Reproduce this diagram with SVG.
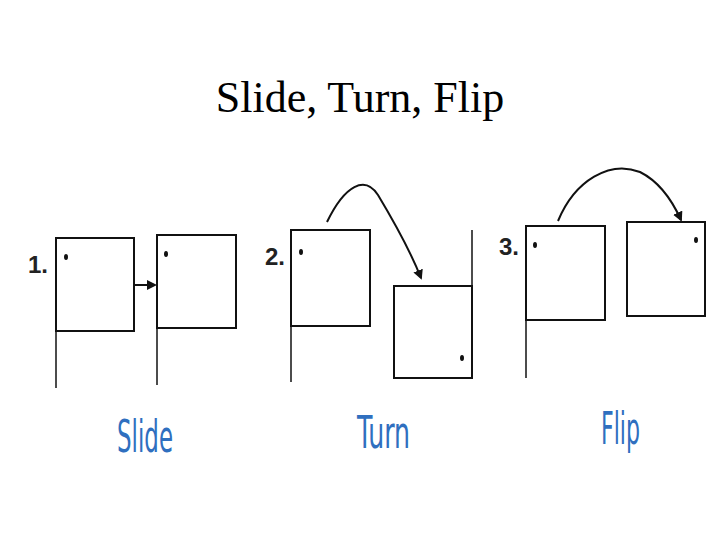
<svg xmlns="http://www.w3.org/2000/svg" width="720" height="540" viewBox="0 0 720 540">
<style>
.b{fill:none;stroke:#111;stroke-width:2}
.l{stroke:#111;stroke-width:1.5}
.d{fill:#111}
.n{font-family:"Liberation Sans",sans-serif;font-weight:bold;font-size:24px;fill:#222}
.lab{font-family:"DejaVu Sans Condensed","Liberation Sans Narrow",sans-serif;font-size:44px;fill:#2f6fbf}
.a{fill:none;stroke:#111;stroke-width:2}
</style>
<defs><marker id="ah" markerWidth="10" markerHeight="10" refX="8" refY="5" orient="auto" markerUnits="userSpaceOnUse"><path d="M0,0 L10,5 L0,10 Z" fill="#111"/></marker></defs>
<rect width="720" height="540" fill="#fff"/>
<text x="360" y="112" text-anchor="middle" font-family="Liberation Serif,serif" font-size="44">Slide, Turn, Flip</text>
<g id="panel1">
<text class="n" x="28" y="273">1.</text>
<rect class="b" x="56" y="238" width="78" height="93"/><line class="l" x1="56" y1="331" x2="56" y2="388"/>
<ellipse class="d" cx="66" cy="257" rx="2" ry="3"/>
<rect class="b" x="157" y="235" width="79" height="93"/><line class="l" x1="157" y1="328" x2="157" y2="385"/>
<ellipse class="d" cx="166" cy="254" rx="2" ry="3"/>
<text class="lab" x="117" y="452" textLength="56" lengthAdjust="spacingAndGlyphs">Slide</text>
</g>
<g id="panel2">
<text class="n" x="265" y="265">2.</text>
<rect class="b" x="291" y="230" width="79" height="96"/><line class="l" x1="291" y1="326" x2="291" y2="382"/>
<ellipse class="d" cx="301" cy="252" rx="2" ry="3"/>
<rect class="b" x="394" y="286" width="78" height="92"/><line class="l" x1="472" y1="230" x2="472" y2="286"/>
<ellipse class="d" cx="462" cy="358" rx="2" ry="3"/>
<text class="lab" x="357" y="448" textLength="53" lengthAdjust="spacingAndGlyphs">Turn</text>
</g>
<g id="panel3">
<text class="n" x="499" y="255">3.</text>
<rect class="b" x="526" y="226" width="79" height="94"/><line class="l" x1="526" y1="320" x2="526" y2="378"/>
<ellipse class="d" cx="535" cy="245" rx="2" ry="3"/>
<rect class="b" x="627" y="222" width="78" height="94"/>
<ellipse class="d" cx="696" cy="240" rx="2" ry="3"/>
<text class="lab" x="601" y="444" textLength="39" lengthAdjust="spacingAndGlyphs">Flip</text>
</g>
<g id="connectors">
<line class="a" x1="134" y1="285" x2="155" y2="285" marker-end="url(#ah)"/>
<path class="a" d="M327,222 C345,185 365,175 378,195 C390,215 410,250 421,278" marker-end="url(#ah)"/>
<path class="a" d="M558,221 C575,180 610,160 640,172 C660,182 672,200 681,220" marker-end="url(#ah)"/>
</g>
</svg>
